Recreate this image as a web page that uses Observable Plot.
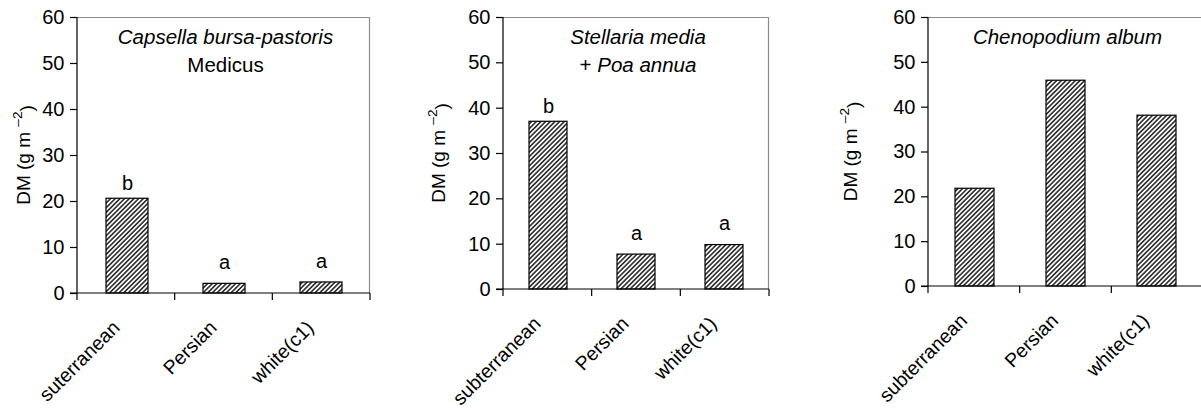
<!DOCTYPE html>
<html><head><meta charset="utf-8">
<script src="https://cdn.jsdelivr.net/npm/d3@7"></script>
<script src="https://cdn.jsdelivr.net/npm/@observablehq/plot@0.6"></script>
<style>
html,body{margin:0;padding:0;background:#fff;overflow:hidden}
#wrap{position:relative;width:1201px;height:409px;overflow:hidden}
.panel{position:absolute;top:0}
</style></head><body><div id="wrap"></div>
<script>
// ---- data ----
const categories1 = ["suterranean", "Persian", "white(c1)"];
const categories2 = ["subterranean", "Persian", "white(c1)"];
const categories3 = ["subterranean", "Persian", "white(c1)"];
const capsellaDM = [20.6, 2.1, 2.4];
const stellariaDM = [37.0, 7.7, 9.8];
const chenopodiumDM = [21.8, 45.9, 38.1];
const capsellaLetters = ["b", "a", "a"];
const stellariaLetters = ["b", "a", "a"];
const chenopodiumLetters = ["", "", ""];
const yTicks = [0, 10, 20, 30, 40, 50, 60];
const yDomain = [0, 60];
const capsellaTitle = [[["Capsella bursa-pastoris", true]], [["Medicus", false]]];
const stellariaTitle = [[["Stellaria media", true]], [["+ ", false], ["Poa annua", true]]];
const chenopodiumTitle = [[["Chenopodium album", true]]];
const yLabelMain = "DM (g m ";
const yLabelSup = "\u20132";
const yLabelEnd = ")";

const FONT = "Liberation Sans, Arial, sans-serif";
const FS = 20;
const FS_X = 19.5;
const FS_TITLE = 20.5;
const FS_YLAB = 19;

function decor(id, titleLines, ylabelX) {
  return (index, scales, values, dims) => {
    const {width, height, marginLeft: ml, marginRight: mr, marginTop: mt, marginBottom: mb} = dims;
    const x0 = ml, x1 = width - mr, yT = mt, yB = height - mb;
    const g = d3.create("svg:g");
    const defs = g.append("defs");
    const P = 3.3;
    const p = defs.append("pattern").attr("id", id).attr("patternUnits", "userSpaceOnUse")
      .attr("width", P).attr("height", P).attr("patternTransform", "rotate(45)");
    p.append("rect").attr("width", P).attr("height", P).attr("fill", "#ffffff");
    p.append("rect").attr("width", P * 0.5).attr("height", P).attr("fill", "#333333");
    // gray top & right frame
    g.append("path").attr("d", `M${x0},${yT + 0.5}H${x1 - 0.5}V${yB}`).attr("fill", "none").attr("stroke", "#8c8c8c").attr("stroke-width", 1.2);
    // black left & bottom axis lines
    g.append("path").attr("d", `M${x0},${yT}V${yB}M${x0 - 7},${yB}H${x1}`).attr("fill", "none").attr("stroke", "#000").attr("stroke-width", 1.2);
    // category boundary ticks
    const n = scales.x.domain ? scales.x.domain().length : 3;
    for (let i = 0; i <= n; i++) {
      const xx = x0 + i * (x1 - x0) / n;
      g.append("line").attr("x1", xx).attr("x2", xx).attr("y1", yB).attr("y2", yB + 7).attr("stroke", "#000").attr("stroke-width", 1.2);
    }
    // title
    const cx = (x0 + x1) / 2 + 2;
    titleLines.forEach((line, li) => {
      const t = g.append("text").attr("x", cx).attr("y", yT + 27 + li * 27.5).attr("text-anchor", "middle")
        .attr("font-family", FONT).attr("font-size", FS_TITLE).attr("fill", "#000");
      line.forEach(([s, it]) => t.append("tspan").attr("font-style", it ? "italic" : "normal").text(s));
    });
    // y label
    const yl = g.append("text").attr("transform", `translate(${ylabelX},${(yT + yB) / 2}) rotate(-90)`)
      .attr("text-anchor", "middle").attr("dy", "0.35em").attr("font-family", FONT).attr("font-size", FS_YLAB).attr("fill", "#000");
    yl.append("tspan").text(yLabelMain);
    yl.append("tspan").attr("dy", "-0.55em").attr("font-size", FS_YLAB * 0.72).text(yLabelSup);
    yl.append("tspan").attr("dy", "0.55em").text(yLabelEnd);
    return g.node();
  };
}

function panel(cfg) {
  const data = cfg.cats.map((c, i) => ({cat: c, value: cfg.vals[i], letter: cfg.letters[i]}));
  const chart = Plot.plot({
    width: cfg.width, height: 409,
    marginTop: 17, marginBottom: cfg.marginBottom, marginLeft: cfg.marginLeft, marginRight: cfg.marginRight,
    style: {fontFamily: FONT, fontSize: FS + "px", color: "#000", background: "transparent", overflow: "visible"},
    x: {domain: cfg.cats, paddingInner: 0.57, paddingOuter: 0.285, axis: null},
    y: {domain: yDomain, axis: null},
    marks: [
      Plot.barY(data, {x: "cat", y: "value", fill: `url(#${cfg.id})`, stroke: "#000", strokeWidth: 1.2}),
      decor(cfg.id, cfg.title, cfg.ylabelX),
      Plot.text(data.filter(d => d.letter === "b"), {x: "cat", y: "value", text: "letter", dy: -15, fontSize: FS, fill: "#000"}),
      Plot.text(data.filter(d => d.letter === "a"), {x: "cat", y: "value", text: "letter", dy: -21, fontSize: FS, fill: "#000"}),
      Plot.axisY({ticks: yTicks, tickSize: 7, tickPadding: 6, label: null, stroke: "#000", strokeWidth: 1.2, fontSize: FS}),
      Plot.axisX({tickSize: 0, tickRotate: -45, tickPadding: 31, label: null, fontSize: FS_X, dx: -11})
    ]
  });
  chart.classList.add("panel");
  chart.style.left = cfg.left + "px";
  document.getElementById("wrap").appendChild(chart);
}

panel({id: "h1", left: 0, width: 400, marginLeft: 77, marginRight: 30, marginBottom: 116, ylabelX: 23,
  cats: categories1, vals: capsellaDM, letters: capsellaLetters, title: capsellaTitle});
panel({id: "h2", left: 400, width: 400, marginLeft: 103, marginRight: 31, marginBottom: 120, ylabelX: 38,
  cats: categories2, vals: stellariaDM, letters: stellariaLetters, title: stellariaTitle});
panel({id: "h3", left: 800, width: 403, marginLeft: 128, marginRight: 0, marginBottom: 123, ylabelX: 50,
  cats: categories3, vals: chenopodiumDM, letters: chenopodiumLetters, title: chenopodiumTitle});
</script></body></html>
